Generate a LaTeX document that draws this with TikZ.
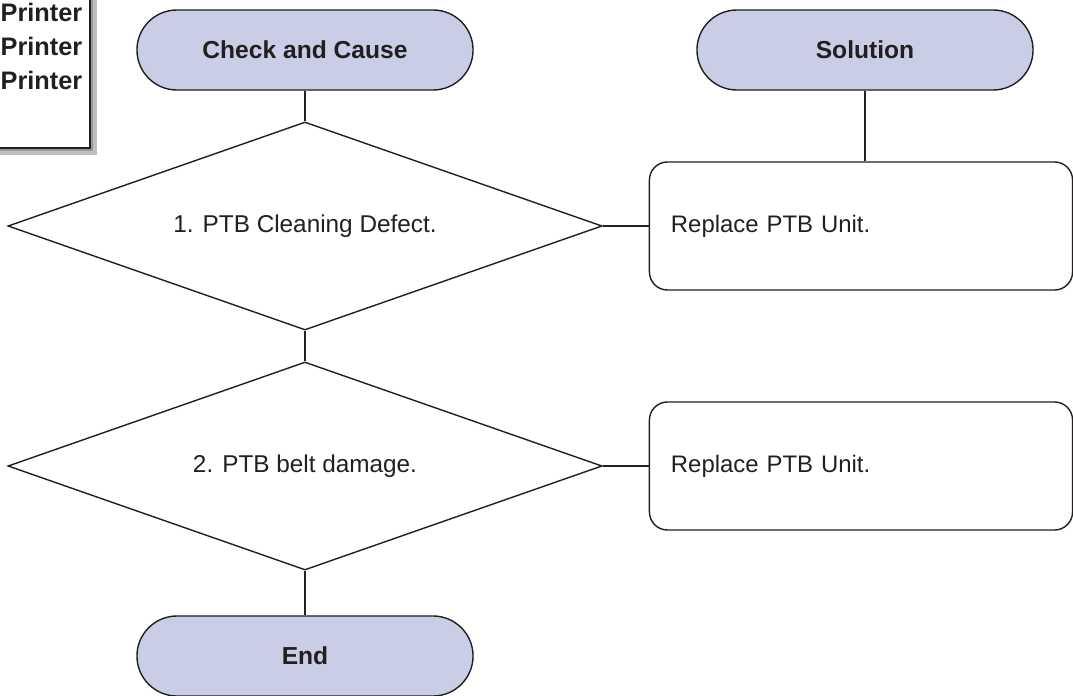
\documentclass[tikz,border=0pt]{standalone}
\usepackage{fontspec}
\setmainfont{Liberation Sans}
\usetikzlibrary{shapes.geometric}
\definecolor{capfill}{RGB}{201,206,230}
\definecolor{ink}{RGB}{35,31,32}

\begin{document}
\begin{tikzpicture}[x=0.025cm, y=-0.025cm, line width=1pt, draw=ink, text=ink,
    termbox/.style={rectangle, rounded corners=1cm, draw, fill=capfill,
        minimum width=8.4cm, minimum height=2cm,
        font=\fontsize{17.5}{20}\selectfont\bfseries},
    check/.style={diamond, aspect=2.856, draw, minimum width=14.85cm, minimum height=5.2cm,
        inner sep=0pt, font=\fontsize{17.3}{20}\selectfont},
    fix/.style={rectangle, rounded corners=0.45cm, draw,
        minimum width=10.575cm, minimum height=3.2cm,
        text width=9.5cm, align=left, inner sep=0.525cm,
        font=\fontsize{17}{20}\selectfont}]
    % Page frame
    \useasboundingbox (0,0) rectangle (1073,696);
    
    % Printer label, cut at the top left
    \fill[black!25] (-20,-20) rectangle (97,155);
    \fill[black!40] (-20,-20) rectangle (93,151);
    \draw[fill=white] (-20,-20) rectangle (90,148);
    \foreach \y/\n in {12/p1, 46/p2, 80/p3}
        \node[anchor=east, inner sep=0pt, font=\fontsize{18}{20}\selectfont\bfseries] (\n) at (83,\y) {Printer};
    
    % Headers
    \node[termbox] (cause) at (305,50) {Check and Cause};
    \node[termbox] (sol) at (865,50) {Solution};
    
    % Checks
    \node[check] (d1) at (305,226) {1. PTB Cleaning Defect.};
    \node[check] (d2) at (305,466) {\raisebox{-5pt}{2. PTB belt damage.}};
    
    % Solutions
    \node[fix] (r1) at (861,226) {Replace PTB Unit.};
    \node[fix] (r2) at (861,466) {Replace PTB Unit.};
    
    % End
    \node[termbox] (fin) at (305,656) {End};
    
    % Connectors
    \draw (cause.south) -- (d1.north);
    \draw (d1.south) -- (d2.north);
    \draw (d2.south) -- (fin.north);
    \draw (sol.south) -- (sol.south |- r1.north);
    \draw (d1.east) -- (r1.west);
    \draw (d2.east) -- (r2.west);
\end{tikzpicture}
\end{document}
